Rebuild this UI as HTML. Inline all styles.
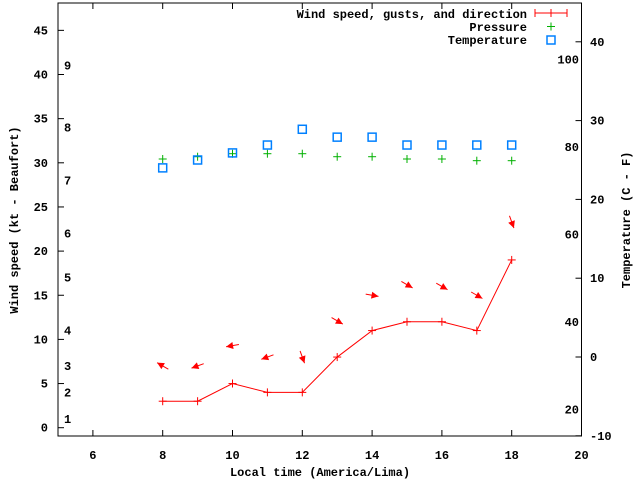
<!DOCTYPE html>
<html><head><meta charset="utf-8"><style>
html,body{margin:0;padding:0;background:#fff}
svg text{font-family:"Liberation Mono",monospace;font-size:12px;font-weight:bold;fill:#000}
</style></head><body>
<svg id="chart" width="640" height="480" xmlns="http://www.w3.org/2000/svg"></svg>
<script>
const hours = [8,9,10,11,12,13,14,15,16,17,18];
const windSpeed = [3,3,5,4,4,8,11,12,12,11,19];
const gustOffset = [4,4,4.3,4,4,4.1,4,4.2,4,4,4.3];
const windDir = [120,70,80,70,340,300,280,300,300,300,340];
const pressure = [30.43,30.69,31.03,31.03,31.03,30.69,30.69,30.43,30.43,30.24,30.24];
const temperature = [24.0,25.0,25.9,26.9,28.9,27.9,27.9,26.9,26.9,26.9,26.9];
const xTicks = [6,8,10,12,14,16,18,20];
const yTicks = [0,5,10,15,20,25,30,35,40,45];
const cTicks = [-10,0,10,20,30,40];
const fLabels = [20,40,60,80,100];
const beaufortLabels = ["1","2","3","4","5","6","7","8","9"];
const beaufortKt = [1,4,7,11,17,22,28,34,41];

const L=58,R=581.5,T=3,B=436;
const sx=v=>L+(v-5)*(R-L)/15;
const sy=v=>427.7-v*8.83;
const sc=v=>357-v*7.88;
const sf=f=>sc((f-32)*5/9);
const svg=document.getElementById('chart');
const NS='http://www.w3.org/2000/svg';
function mk(tag,attrs,parent){const e=document.createElementNS(NS,tag);for(const k in attrs)e.setAttribute(k,attrs[k]);(parent||svg).appendChild(e);return e;}
function txt(x,y,s,anchor,name){const e=mk('text',{x:x,y:y,'text-anchor':anchor||'middle'});e.textContent=s;return e;}

const frame=mk('rect',{x:L,y:T,width:R-L,height:B-T,fill:'none',stroke:'#000','stroke-width':1});



xTicks.forEach(v=>{
  const x=sx(v);
  mk('line',{x1:x,y1:B,x2:x,y2:B-6,stroke:'#000'});
  mk('line',{x1:x,y1:T,x2:x,y2:T+6,stroke:'#000'});
  txt(x,459,String(v),'middle','x-tick-label');
});
yTicks.forEach(v=>{
  const y=sy(v);
  mk('line',{x1:L,y1:y,x2:L+6,y2:y,stroke:'#000'});
  txt(48,y+4,String(v),'end','y-tick-label');
});
cTicks.forEach(v=>{
  const y=sc(v);
  mk('line',{x1:R,y1:y,x2:R-6,y2:y,stroke:'#000'});
  txt(590,y+4,String(v),'start','celsius-tick-label');
});
fLabels.forEach(v=>{txt(579,sf(v)+4,String(v),'end','fahrenheit-label');});
beaufortLabels.forEach((s,i)=>{txt(64,sy(beaufortKt[i])+4,s,'start','beaufort-label');});

txt(320,476,'Local time (America/Lima)','middle','x-axis-title');
const yt=txt(0,0,'Wind speed (kt - Beaufort)','middle','y-axis-title');
yt.setAttribute('transform','translate(18,220) rotate(-90)');
const rt=txt(0,0,'Temperature (C - F)','middle','y2-axis-title');
rt.setAttribute('transform','translate(630,220) rotate(-90)');

// wind line
let pts=hours.map((h,i)=>sx(h)+','+sy(windSpeed[i])).join(' ');
const wl=mk('polyline',{points:pts,fill:'none',stroke:'#f00','stroke-width':1});


function plus(x,y,c,name){const g=mk('g',{stroke:c,'stroke-width':1});mk('line',{x1:x-4,y1:y,x2:x+4,y2:y},g);mk('line',{x1:x,y1:y-4,x2:x,y2:y+4},g);return g;}
hours.forEach((h,i)=>plus(sx(h),sy(windSpeed[i]),'#f00','wind-point'));
// arrows
hours.forEach((h,i)=>{
  const cx=sx(h),cy=sy(windSpeed[i]+gustOffset[i]);
  const to=(windDir[i]+180)*Math.PI/180;
  const dx=Math.sin(to)*6.5,dy=-Math.cos(to)*6.5;
  const hx=cx+dx,hy=cy+dy,tx=cx-dx,ty=cy-dy;
  const g=mk('g',{});
  
  
  mk('line',{x1:tx,y1:ty,x2:hx,y2:hy,stroke:'#f00','stroke-width':1},g);
  const ux=dx/6.5,uy=dy/6.5,px=-uy,py=ux;
  const bx=hx-ux*7,by=hy-uy*7;
  mk('polygon',{points:`${hx},${hy} ${bx+px*3.5},${by+py*3.5} ${bx-px*3.5},${by-py*3.5}`,fill:'#f00'},g);
});
hours.forEach((h,i)=>plus(sx(h),sy(pressure[i]),'#00b000','pressure-point'));
hours.forEach((h,i)=>{const r=mk('rect',{x:sx(h)-4,y:sc(temperature[i])-4,width:8,height:8,fill:'none',stroke:'#0080ff','stroke-width':1.5});});

// legend
txt(527,18,'Wind speed, gusts, and direction','end','legend-wind-label');
const lg=mk('g',{stroke:'#f00'});


mk('line',{x1:535,y1:13,x2:567,y2:13},lg);mk('line',{x1:535,y1:9,x2:535,y2:17},lg);mk('line',{x1:567,y1:9,x2:567,y2:17},lg);mk('line',{x1:551,y1:9,x2:551,y2:17},lg);
txt(527,31,'Pressure','end','legend-pressure-label');
plus(551,26.5,'#00b000','legend-pressure-sample');
txt(527,44,'Temperature','end','legend-temperature-label');
const lr=mk('rect',{x:547,y:36,width:8,height:8,fill:'none',stroke:'#0080ff','stroke-width':1.5});


</script>
</body></html>
